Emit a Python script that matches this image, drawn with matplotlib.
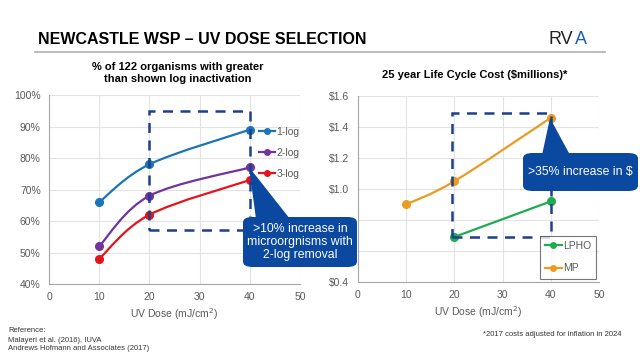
import numpy as np
import matplotlib.pyplot as plt
from matplotlib.path import Path
from matplotlib.patches import PathPatch, Rectangle, FancyBboxPatch, Polygon
from matplotlib.lines import Line2D

plt.rcParams['font.family'] = ['Liberation Sans', 'DejaVu Sans']

# data
dose = [10, 20, 40]
log1 = [66, 78, 89]
log2 = [52, 68, 77]
log3 = [48, 62, 73]
mp_dose = [10, 20, 40]
mp_cost = [0.90, 1.05, 1.46]
lpho_dose = [20, 40]
lpho_cost = [0.69, 0.92]
cost_ticks = [0.4, 0.6, 0.8, 1.0, 1.2, 1.4, 1.6]
cost_labels = ['$0.4', '', '', '$1.0', '$1.2', '$1.4', '$1.6']  # 0.6/0.8 hidden under callout

c1, c2, c3 = '#1a75b8', '#7232a0', '#e5141b'
c_lpho, c_mp = '#1fac50', '#ec9b22'
navy = '#1d3f8c'
callout = '#0b48a0'
grey = '#595959'


def smooth_path(xs, ys, t=1/6):
    # excel style smoothed line through the points (bezier segments)
    pts = np.column_stack([xs, ys]).astype(float)
    verts = [pts[0]]
    codes = [Path.MOVETO]
    n = len(pts)
    for i in range(n - 1):
        p0 = pts[i - 1] if i > 0 else pts[i]
        p1, p2 = pts[i], pts[i + 1]
        p3 = pts[i + 2] if i + 2 < n else pts[i + 1]
        verts += [p1 + (p2 - p0) * t, p2 - (p3 - p1) * t, p2]
        codes += [Path.CURVE4] * 3
    return Path(verts, codes)


def style(ax):
    for s in ['top', 'right']:
        ax.spines[s].set_visible(False)
    for s in ['left', 'bottom']:
        ax.spines[s].set_color('#a6a6a6')
    ax.grid(True, color='#e3e3e3', lw=0.8)
    ax.set_axisbelow(True)
    ax.tick_params(length=0, labelsize=7.5, labelcolor=grey, pad=6)
    ax.set_xlim(0, 50)
    ax.set_xticks([0, 10, 20, 30, 40, 50])
    ax.set_xlabel('UV Dose (mJ/cm$^2$)', fontsize=7.5, color=grey, labelpad=3)


fig = plt.figure(figsize=(6.4, 3.6), dpi=100)

# left chart
ax1 = fig.add_axes([0.0766, 0.211, 0.392, 0.525])
style(ax1)
ax1.set_ylim(40, 100)
ax1.set_yticks(range(40, 101, 10))
ax1.set_yticklabels([f'{v}%' for v in range(40, 101, 10)])
handles = []
for ys, c, lab in [(log1, c1, '1-log'), (log2, c2, '2-log'), (log3, c3, '3-log')]:
    ax1.add_patch(PathPatch(smooth_path(dose, ys), fc='none', ec=c, lw=1.6, zorder=3))
    ax1.plot(dose, ys, 'o', color=c, ms=5.5, zorder=4)
    handles.append(Line2D([], [], color=c, lw=1.6, marker='o', ms=4, label=lab))
ax1.add_patch(Rectangle((20, 57), 20, 38, fill=False, ec=navy, lw=1.8, ls=(0, (4, 3)), zorder=5))
leg1 = ax1.legend(handles=handles, loc='upper left', bbox_to_anchor=(0.815, 0.86), frameon=False,
                  fontsize=7.5, handlelength=1.6, handletextpad=0.1, labelspacing=1.05,
                  borderpad=0)
for t in leg1.get_texts():
    t.set_color(grey)

# right chart
ax2 = fig.add_axes([0.559, 0.217, 0.377, 0.516])
style(ax2)
ax2.set_ylim(0.4, 1.6)
ax2.set_yticks(cost_ticks)
ax2.set_yticklabels(cost_labels)
ax2.add_patch(PathPatch(smooth_path(mp_dose, mp_cost), fc='none', ec=c_mp, lw=1.6, zorder=3))
ax2.plot(mp_dose, mp_cost, 'o', color=c_mp, ms=5.5, zorder=4)
ax2.plot(lpho_dose, lpho_cost, '-o', color=c_lpho, lw=1.6, ms=5.5, zorder=4)
ax2.add_patch(Rectangle((19.5, 0.69), 20.5, 0.80, fill=False, ec=navy, lw=1.8, ls=(0, (4, 3)), zorder=5))
h2 = [Line2D([], [], color=c_lpho, lw=1.6, marker='o', ms=4, label='LPHO'),
      Line2D([], [], color=c_mp, lw=1.6, marker='o', ms=4, label='MP')]
leg2 = ax2.legend(handles=h2, loc='lower right', bbox_to_anchor=(1.01, -0.01), fontsize=7.5,
                  handlelength=1.6, handletextpad=0.1, labelspacing=1.2, fancybox=False,
                  edgecolor='#555555', borderpad=0.5)
leg2.get_frame().set_linewidth(0.8)
for t in leg2.get_texts():
    t.set_color(grey)

# subtitles
fig.text(178 / 640, 1 - 73 / 360, '% of 122 organisms with greater\nthan shown log inactivation',
         ha='center', va='center', fontsize=8, fontweight='bold', linespacing=1.15)
fig.text(475 / 640, 1 - 75 / 360, '25 year Life Cycle Cost ($millions)*',
         ha='center', va='center', fontsize=8, fontweight='bold')

# header
fig.text(38 / 640, 1 - 40 / 360, 'NEWCASTLE WSP \u2013 UV DOSE SELECTION', ha='left', va='center',
         fontsize=11.5, fontweight='bold')
fig.add_artist(Line2D([35 / 640, 605 / 640], [1 - 52 / 360] * 2, color='#b0b0b0', lw=1.2))
fig.text(549 / 640, 1 - 40 / 360, 'RV', ha='left', va='center', fontsize=13, color='#222222')
fig.text(575 / 640, 1 - 40 / 360, 'A', ha='left', va='center', fontsize=13, color='#1a5fb4')


def px(x, y):
    return (x / 640, 1 - y / 360)


def bubble(x0, y0, x1, y1, tri, text, fs):
    fig.add_artist(FancyBboxPatch(px(x0, y1), (x1 - x0) / 640, (y1 - y0) / 360,
                                  boxstyle='round,pad=0,rounding_size=0.015',
                                  fc=callout, ec='none', transform=fig.transFigure, zorder=10))
    fig.add_artist(Polygon([px(*p) for p in tri], closed=True, fc=callout, ec='none',
                           transform=fig.transFigure, zorder=10))
    fig.text(*px((x0 + x1) / 2, (y0 + y1) / 2), text, ha='center', va='center', color='white',
             fontsize=fs, linespacing=1.1, zorder=11)


bubble(243, 217, 357, 267, [(249, 167), (256, 219), (290, 219)],
       '>10% increase in\nmicroorgnisms with\n2-log removal', 8.8)
bubble(523, 153, 638, 191, [(550, 118), (542, 155), (570, 155)],
       '>35% increase in $', 8.8)

# footer
fig.text(8 / 640, 1 - 340 / 360,
         'Reference:\nMalayeri et al. (2016), IUVA\nAndrews Hofmann and Associates (2017)',
         ha='left', va='center', fontsize=5.5, color='#333333', linespacing=1.4)
fig.text(483 / 640, 1 - 335 / 360, '*2017 costs adjusted for inflation in 2024',
         ha='left', va='center', fontsize=5.5, color='#333333')

fig.savefig('out.png', dpi=100)
